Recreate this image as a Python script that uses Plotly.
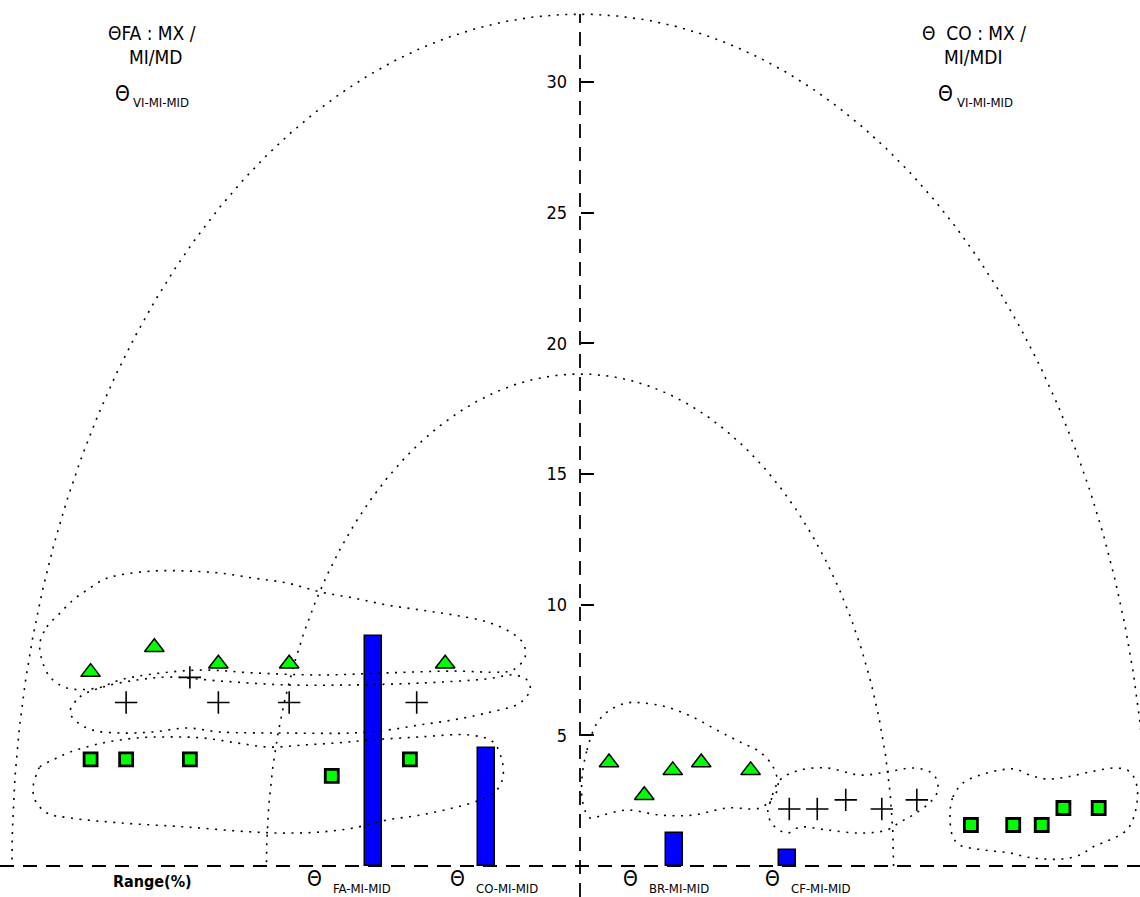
import numpy as np
import plotly.graph_objects as go

W, H = 1140, 897

# ---------------- data ----------------
left_tri_x = [-18.73, -16.29, -13.84, -11.13, -5.16]
left_tri_y = [7.42, 8.37, 7.74, 7.74, 7.74]
left_cross_x = [-17.37, -14.93, -13.84, -11.13, -6.25]
left_cross_y = [6.26, 7.22, 6.26, 6.26, 6.26]
left_sq_x = [-18.73, -17.37, -14.93, -9.50, -6.51]
left_sq_y = [4.08, 4.08, 4.08, 3.45, 4.08]

right_tri_x = [1.11, 2.46, 3.55, 4.64, 6.53]
right_tri_y = [3.96, 2.71, 3.66, 3.96, 3.66]
right_cross_x = [8.01, 9.08, 10.17, 11.55, 12.89]
right_cross_y = [2.18, 2.18, 2.53, 2.18, 2.53]
right_sq_x = [14.96, 16.58, 17.67, 18.50, 19.85]
right_sq_y = [1.57, 1.57, 1.57, 2.22, 2.22]

bar_labels = ["FA-MI-MID", "CO-MI-MID", "BR-MI-MID", "CF-MI-MID"]
bar_x = [-7.91, -3.57, 3.61, 7.95]
bar_y = [8.79, 4.50, 1.25, 0.62]

y_ticks = [5, 10, 15, 20, 25, 30]

# reference arcs (semi-ellipses): horizontal radius, vertical radius
outer_arc = (21.74, 32.6)
inner_arc = (12.0, 18.83)

# dotted envelopes (x list, y list)
env_tri_left_x = [-20.67, -20.40, -19.90, -19.40, -18.87, -18.25, -17.60, -16.34, -15.04, -13.78, -12.51, -11.21,
                  -9.95, -8.69, -7.39, -6.12, -4.86, -3.56, -2.68, -2.18, -2.10, -2.56, -3.06, -4.86, -7.39, -9.95,
                  -12.51, -14.43, -16.34, -17.60, -18.48, -19.63, -20.28, -20.59, -20.67]
env_tri_left_y = [8.53, 9.15, 9.68, 10.18, 10.56, 10.95, 11.14, 11.29, 11.29, 11.21, 11.02, 10.83,
                  10.49, 10.26, 9.99, 9.80, 9.61, 9.34, 8.96, 8.53, 8.00, 7.50, 7.42, 7.46, 7.39, 7.31,
                  7.39, 7.50, 7.35, 7.12, 6.81, 6.81, 7.23, 7.88, 8.53]

env_cross_left_x = [-19.52, -19.14, -18.25, -16.95, -15.69, -13.78, -11.21, -8.69, -6.12, -3.56, -2.49, -1.99,
                    -1.91, -2.30, -3.56, -4.86, -6.12, -7.39, -8.69, -11.21, -13.78, -15.04, -16.34, -17.60,
                    -18.64, -19.25, -19.52]
env_cross_left_y = [5.89, 6.47, 6.85, 7.12, 7.23, 7.08, 6.93, 6.93, 7.00, 7.16, 7.31, 7.08,
                    6.74, 6.24, 5.86, 5.59, 5.40, 5.20, 5.09, 5.09, 5.13, 5.28, 5.13, 5.09,
                    5.20, 5.51, 5.89]

env_sq_left_x = [-20.78, -20.67, -20.17, -19.52, -18.25, -16.95, -15.69, -14.43, -13.13, -11.86, -10.60, -9.30,
                 -8.04, -6.12, -4.21, -3.33, -2.99, -2.95, -3.18, -3.83, -4.86, -6.12, -7.39, -8.69, -9.95,
                 -11.21, -12.51, -15.04, -17.60, -19.52, -20.40, -20.86, -20.93, -20.78]
env_sq_left_y = [3.56, 3.79, 4.06, 4.36, 4.71, 4.90, 4.94, 4.90, 4.71, 4.55, 4.63, 4.71,
                 4.82, 4.94, 5.01, 4.75, 4.06, 3.41, 2.91, 2.53, 2.22, 1.95, 1.76, 1.45, 1.30,
                 1.26, 1.30, 1.49, 1.65, 1.84, 2.03, 2.53, 3.02, 3.56]

env_tri_right_x = [0.08, 0.27, 0.65, 1.15, 1.80, 2.41, 3.33, 4.32, 5.24, 6.12, 6.89, 7.39, 7.58, 7.39,
                   6.89, 5.63, 4.32, 3.06, 1.80, 0.88, 0.38, 0.11, 0.08]
env_tri_right_y = [3.41, 4.44, 5.47, 5.97, 6.24, 6.24, 6.08, 5.70, 5.20, 4.75, 4.36, 3.79, 3.02, 2.64,
                   2.22, 2.22, 1.95, 1.95, 2.14, 1.95, 1.84, 2.41, 3.41]

env_cross_right_x = [7.19, 7.27, 7.65, 8.42, 9.45, 10.72, 11.75, 12.74, 13.39, 13.66, 13.66, 13.28, 12.74,
                     12.25, 11.75, 10.72, 9.45, 8.42, 7.92, 7.39, 7.19]
env_cross_right_y = [2.03, 2.41, 3.29, 3.67, 3.75, 3.48, 3.60, 3.75, 3.60, 3.29, 2.79, 2.33, 1.95,
                     1.68, 1.38, 1.26, 1.38, 1.49, 1.26, 1.57, 2.03]

env_sq_right_x = [14.16, 14.27, 14.66, 15.31, 16.07, 16.65, 17.22, 17.87, 18.64, 19.52, 20.55, 21.05, 21.32,
                  21.24, 20.93, 20.28, 19.63, 19.14, 18.48, 17.72, 17.11, 16.46, 15.81, 15.19, 14.54, 14.27, 14.16]
env_sq_right_y = [1.95, 2.64, 3.18, 3.48, 3.67, 3.71, 3.48, 3.33, 3.41, 3.60, 3.75, 3.60, 3.02,
                  2.03, 1.38, 1.00, 0.73, 0.42, 0.27, 0.27, 0.34, 0.50, 0.57, 0.65, 0.80, 1.11, 1.95]

# ---------------- frame ----------------
SCALE = 26.13           # px per unit (both axes)
AXIS_PX, BASE_PX = 580, 866
X_RANGE = [-AXIS_PX / SCALE, (W - AXIS_PX) / SCALE]
Y_RANGE = [(BASE_PX - H) / SCALE, BASE_PX / SCALE]

GREEN = "#00FF00"
BLUE = "#0000FF"
FONT = "Liberation Sans Narrow, Arial Narrow, DejaVu Sans Condensed, DejaVu Sans, sans-serif"
DOT = "2px,6.5px"

fig = go.Figure()

fig.add_trace(go.Bar(x=bar_x, y=bar_y, width=0.67,
                     marker=dict(color=BLUE, line=dict(color="black", width=1.5))))

for rx, ry in (outer_arc, inner_arc):
    t = np.linspace(0, np.pi, 500)
    fig.add_trace(go.Scatter(x=rx * np.cos(t), y=ry * np.sin(t), mode="lines",
                             line=dict(color="black", width=1.6, dash=DOT), hoverinfo="skip"))

for ex, ey in ((env_tri_left_x, env_tri_left_y), (env_cross_left_x, env_cross_left_y),
               (env_sq_left_x, env_sq_left_y), (env_tri_right_x, env_tri_right_y),
               (env_cross_right_x, env_cross_right_y), (env_sq_right_x, env_sq_right_y)):
    fig.add_trace(go.Scatter(x=ex, y=ey, mode="lines",
                             line=dict(color="black", width=1.6, dash=DOT, shape="spline", smoothing=1.0),
                             hoverinfo="skip"))

fig.add_trace(go.Scatter(x=left_tri_x + right_tri_x, y=left_tri_y + right_tri_y, mode="markers",
                         marker=dict(symbol="triangle-up", size=17, color=GREEN,
                                     line=dict(color="black", width=1.5))))
fig.add_trace(go.Scatter(x=left_cross_x + right_cross_x, y=left_cross_y + right_cross_y, mode="markers",
                         marker=dict(symbol="cross-thin", size=16, color="black",
                                     line=dict(color="black", width=1.6))))
fig.add_trace(go.Scatter(x=left_sq_x + right_sq_x, y=left_sq_y + right_sq_y, mode="markers",
                         marker=dict(symbol="square", size=13, color=GREEN,
                                     line=dict(color="black", width=2.8))))

shapes = [
    dict(type="line", xref="paper", yref="y", x0=0, x1=1, y0=0, y1=0,
         line=dict(color="black", width=1.8, dash="14px,9px"), layer="below"),
    dict(type="line", xref="x", yref="paper", x0=0, x1=0, y0=0, y1=1 - 14 / H,
         line=dict(color="black", width=1.8, dash="14px,9px"), layer="below"),
]


def px(xp, yp):
    return xp / W, 1 - yp / H


annotations = []


def txt(s, xp, yp, size, xanchor="center", bold=False):
    x, y = px(xp, yp)
    if bold:
        s = "<b>" + s + "</b>"
    annotations.append(dict(text=s, x=x, y=y, xref="paper", yref="paper", showarrow=False,
                            xanchor=xanchor, yanchor="middle",
                            font=dict(family=FONT, size=size, color="black")))


txt("ΘFA : MX /", 152, 33, 19)
txt("MI/MD", 155, 57, 19)
txt("Θ", 122, 94, 21)
txt("VI-MI-MID", 131, 102, 13, xanchor="left")

txt("Θ  CO : MX /", 974, 33, 19)
txt("MI/MDI", 973, 57, 19)
txt("Θ", 945, 94, 21)
txt("VI-MI-MID", 955, 102, 13, xanchor="left")

txt("Range(%)", 152, 881, 16, bold=True)
theta_px = [314, 457, 630, 772]
for lab, tp in zip(bar_labels, theta_px):
    txt("Θ", tp, 879, 21)
    txt(lab, tp + 17, 888, 13, xanchor="left")

fig.update_layout(
    width=W, height=H, margin=dict(l=0, r=0, t=0, b=0),
    paper_bgcolor="white", plot_bgcolor="white", showlegend=False,
    shapes=shapes, annotations=annotations, bargap=0,
    xaxis=dict(range=X_RANGE, visible=False, fixedrange=True),
    yaxis=dict(range=Y_RANGE, anchor="free", position=AXIS_PX / W, side="left",
               tickvals=y_ticks, ticks="inside", ticklen=13, tickwidth=1.5, tickcolor="black",
               showline=False, showgrid=False, zeroline=False, ticklabelstandoff=13,
               tickfont=dict(family=FONT, size=18, color="black"), fixedrange=True),
)

fig.write_html("out.html", config={"displayModeBar": False},
               post_script="document.body.style.margin='0';document.body.style.overflow='hidden';")
